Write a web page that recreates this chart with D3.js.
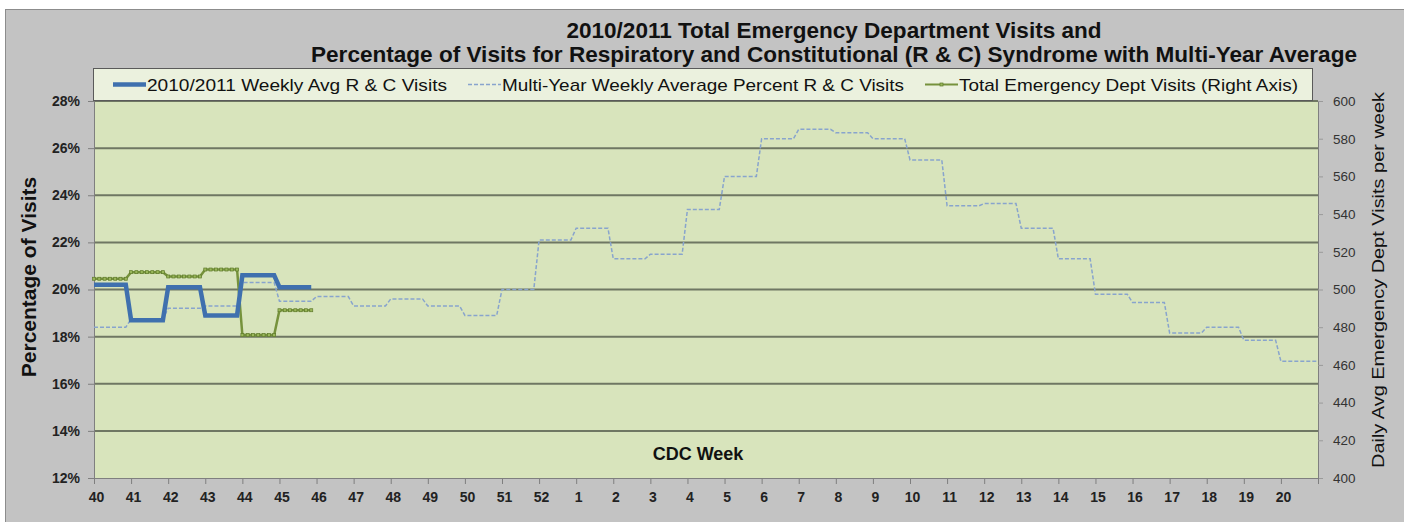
<!DOCTYPE html>
<html>
<head>
<meta charset="utf-8">
<script src="https://cdn.jsdelivr.net/npm/d3@7"></script>
<style>
  body { margin: 0; background: #fff; }
  svg { display: block; font-family: "Liberation Sans", Arial, sans-serif; }
</style>
</head>
<body>
<div class="chart"></div>
<script>
// CDC weeks on the x axis
const weeks = [40, 41, 42, 43, 44, 45, 46, 47, 48, 49, 50, 51, 52,
  1, 2, 3, 4, 5, 6, 7, 8, 9, 10, 11, 12, 13, 14, 15, 16, 17, 18, 19, 20];

// 2010/2011 weekly avg R & C visits (%), weeks 40-45
const rcPct = [20.2, 18.7, 20.1, 18.9, 20.6, 20.1];

// multi-year weekly average percent R & C visits (%)
const multiYearPct = [18.4, 18.75, 19.2, 19.3, 20.3, 19.5, 19.7, 19.3, 19.6, 19.3, 18.9, 20.0, 22.1,
  22.6, 21.3, 21.5, 23.4, 24.8, 26.4, 26.8, 26.65, 26.4, 25.5, 23.55, 23.65, 22.6, 21.3,
  19.8, 19.45, 18.15, 18.4, 17.85, 16.95];

// total emergency dept visits (right axis), weeks 40-45
const totalVisits = [505.7, 509.2, 506.9, 510.6, 475.8, 489];

const leftTicks = [12, 14, 16, 18, 20, 22, 24, 26, 28];
const rightTicks = [400, 420, 440, 460, 480, 500, 520, 540, 560, 580, 600];

const W = 1404, H = 522;
const plot = {left: 94, right: 1318, top: 101, bottom: 478};

const svg = d3.select(".chart").append("svg")
    .attr("width", W)
    .attr("height", H);

// outer frame
svg.append("rect")
    .attr("x", 5.5).attr("y", 9.5)
    .attr("width", W).attr("height", H)
    .attr("fill", "#c3c3c3")
    .attr("stroke", "#8c8c8c");

let x = d3.scaleLinear().domain([0, weeks.length]).range([plot.left, plot.right]);
let yL = d3.scaleLinear().domain([12, 28]).range([plot.bottom, plot.top]);
let yR = d3.scaleLinear().domain([400, 600]).range([plot.bottom, plot.top]);

svg.append("rect")
    .attr("x", plot.left).attr("y", plot.top)
    .attr("width", plot.right - plot.left).attr("height", plot.bottom - plot.top)
    .attr("fill", "#d8e4bc");

// gridlines
svg.append("g")
    .selectAll("line")
    .data(leftTicks.slice(1))
    .join("line")
    .attr("x1", plot.left).attr("x2", plot.right)
    .attr("y1", d => yL(d)).attr("y2", d => yL(d))
    .attr("stroke", "#6f7763")
    .attr("stroke-width", 2);

// left axis
let yAxisL = svg.append("g")
    .attr("transform", `translate(${plot.left},0)`)
    .call(d3.axisLeft(yL).tickValues(leftTicks).tickSize(6).tickPadding(8).tickFormat(d => d + "%"));
yAxisL.select(".domain").attr("stroke", "#7f7f7f");
yAxisL.selectAll(".tick line").attr("stroke", "#7f7f7f");
yAxisL.selectAll("text")
    .attr("font-size", 14).attr("font-weight", "bold").attr("fill", "#222")
    .attr("font-family", "Liberation Sans, Arial, sans-serif");

// right axis
let yAxisR = svg.append("g")
    .attr("transform", `translate(${plot.right},0)`)
    .call(d3.axisRight(yR).tickValues(rightTicks).tickSize(5).tickPadding(10));
yAxisR.select(".domain").attr("stroke", "#7f7f7f");
yAxisR.selectAll(".tick line").attr("stroke", "#9a9a9a");
yAxisR.selectAll("text")
    .attr("font-size", 13.5).attr("fill", "#333")
    .attr("font-family", "Liberation Sans, Arial, sans-serif");

// bottom axis: ticks at the start of each week
let xAxis = svg.append("g")
    .attr("transform", `translate(0,${plot.bottom})`)
    .call(d3.axisBottom(x)
        .tickValues(d3.range(weeks.length + 1))
        .tickSize(6).tickPadding(8)
        .tickFormat(i => i < weeks.length ? weeks[i] : ""));
xAxis.select(".domain").attr("stroke", "#7f7f7f");
xAxis.selectAll(".tick line").attr("stroke", "#7f7f7f");
xAxis.selectAll("text")
    .attr("font-size", 14).attr("font-weight", "bold").attr("fill", "#222")
    .attr("dx", 2)
    .attr("font-family", "Liberation Sans, Arial, sans-serif");

// each week drawn flat across its days, then a short step to the next week
const dailyPoints = vals => {
    let pts = [];
    vals.forEach((v, i) => {
        for (let d = 0; d < 7; d++) pts.push({t: i + d / 7, v: v});
    });
    return pts;
};

let lineL = d3.line().x(d => x(d.t)).y(d => yL(d.v));
let lineR = d3.line().x(d => x(d.t)).y(d => yR(d.v));

const multiPts = dailyPoints(multiYearPct);
multiPts.push({t: weeks.length, v: multiYearPct[multiYearPct.length - 1]});

svg.append("path")
    .datum(multiPts)
    .attr("d", lineL)
    .attr("fill", "none")
    .attr("stroke", "#88a4cd")
    .attr("stroke-width", 1.5)
    .attr("stroke-dasharray", "4,2");

const greenPts = dailyPoints(totalVisits);
svg.append("path")
    .datum(greenPts)
    .attr("d", lineR)
    .attr("fill", "none")
    .attr("stroke", "#76923c")
    .attr("stroke-width", 2.5);

svg.append("g")
    .selectAll("rect")
    .data(greenPts)
    .join("rect")
    .attr("x", d => x(d.t) - 1.5)
    .attr("y", d => yR(d.v) - 1.5)
    .attr("width", 3).attr("height", 3)
    .attr("fill", "#9ab85a")
    .attr("stroke", "#5f7a2c")
    .attr("stroke-width", 0.7);

const bluePts = dailyPoints(rcPct);
svg.append("path")
    .datum(bluePts)
    .attr("d", lineL)
    .attr("fill", "none")
    .attr("stroke", "#3f70ae")
    .attr("stroke-width", 4.5);

// CDC Week label inside the plot
svg.append("text")
    .attr("x", 698).attr("y", 460)
    .attr("text-anchor", "middle")
    .attr("font-size", 18).attr("font-weight", "bold").attr("fill", "#111")
    .text("CDC Week");

// axis titles
svg.append("text")
    .attr("transform", "translate(36,277) rotate(-90)")
    .attr("text-anchor", "middle")
    .attr("font-size", 21).attr("font-weight", "bold").attr("fill", "#111")
    .text("Percentage of Visits");

svg.append("text")
    .attr("transform", "translate(1384,280) rotate(-90)")
    .attr("text-anchor", "middle")
    .attr("font-size", 17).attr("fill", "#111")
    .attr("textLength", 376)
    .attr("lengthAdjust", "spacingAndGlyphs")
    .text("Daily Avg Emergency Dept Visits per week");

// title
const titleLines = [
    "2010/2011 Total Emergency Department Visits and",
    "Percentage of Visits for Respiratory and Constitutional (R & C) Syndrome with Multi-Year Average"
];
const titleWidths = [535, 1046];
svg.append("g")
    .selectAll("text")
    .data(titleLines)
    .join("text")
    .attr("x", 834)
    .attr("y", (d, i) => 38 + i * 23.5)
    .attr("text-anchor", "middle")
    .attr("font-size", 21.5).attr("font-weight", "bold").attr("fill", "#111")
    .attr("textLength", (d, i) => titleWidths[i])
    .attr("lengthAdjust", "spacingAndGlyphs")
    .text(d => d);

// legend
const legendItems = [
    {label: "2010/2011 Weekly Avg R & C Visits", x: 113, textW: 300},
    {label: "Multi-Year Weekly Average Percent R & C Visits", x: 468, textW: 402},
    {label: "Total Emergency Dept Visits (Right Axis)", x: 925, textW: 339}
];

let legend = svg.append("g");
legend.append("rect")
    .attr("x", 93.5).attr("y", 68.5)
    .attr("width", 1219).attr("height", 32)
    .attr("fill", "#ebf1de")
    .attr("stroke", "#5a5a5a");

let li = legend.selectAll("g")
    .data(legendItems)
    .join("g")
    .attr("transform", d => `translate(${d.x},84.5)`);

li.filter((d, i) => i == 0).append("line")
    .attr("x1", 0).attr("x2", 33)
    .attr("stroke", "#3f70ae").attr("stroke-width", 4.5);
li.filter((d, i) => i == 1).append("line")
    .attr("x1", 0).attr("x2", 33)
    .attr("stroke", "#88a4cd").attr("stroke-width", 1.5).attr("stroke-dasharray", "4,2");
li.filter((d, i) => i == 2).append("line")
    .attr("x1", 0).attr("x2", 33)
    .attr("stroke", "#76923c").attr("stroke-width", 2);
li.filter((d, i) => i == 2).append("rect")
    .attr("x", 15).attr("y", -1.5).attr("width", 3).attr("height", 3)
    .attr("fill", "#9ab85a").attr("stroke", "#5f7a2c").attr("stroke-width", 0.7);

li.append("text")
    .attr("x", 34).attr("y", 6)
    .attr("font-size", 17).attr("fill", "#111")
    .attr("textLength", d => d.textW)
    .attr("lengthAdjust", "spacingAndGlyphs")
    .text(d => d.label);
</script>
</body>
</html>
